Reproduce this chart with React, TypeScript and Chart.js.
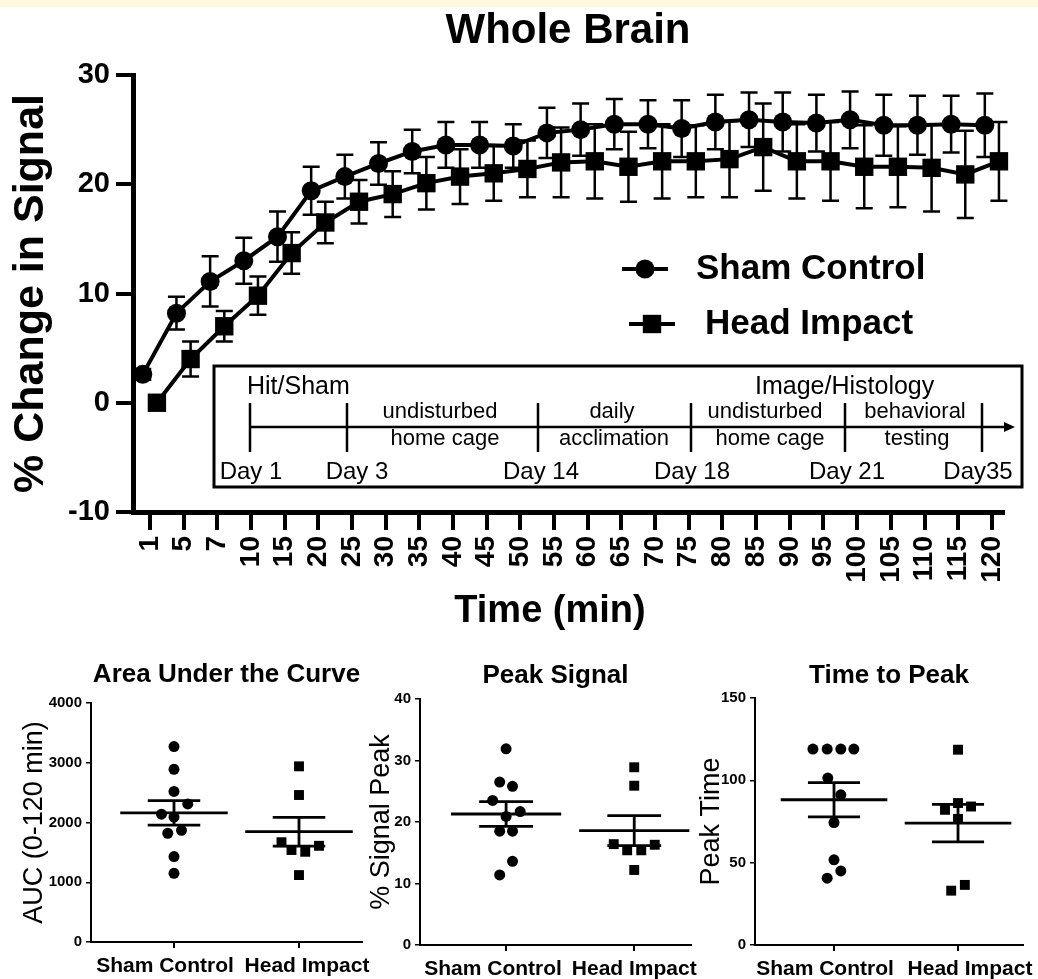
import React, { useEffect, useRef } from 'react';
import { Chart, registerables } from 'chart.js';

Chart.register(...registerables);

const FONT = "'Liberation Sans', Arial, Helvetica, sans-serif";

// ---------- Whole Brain time course ----------
const timeLabels = ['1', '5', '7', '10', '15', '20', '25', '30', '35', '40', '45', '50', '55', '60', '65', '70', '75', '80', '85', '90', '95', '100', '105', '110', '115', '120'];
const shamMean = [2.6, 8.2, 11.1, 13.0, 15.2, 19.4, 20.7, 21.9, 23.0, 23.6, 23.6, 23.5, 24.7, 25.0, 25.5, 25.5, 25.1, 25.7, 25.9, 25.7, 25.6, 25.9, 25.4, 25.4, 25.5, 25.4];
const shamSem = [0.5, 1.5, 2.3, 2.1, 2.3, 2.2, 2.0, 1.95, 2.0, 2.1, 2.1, 2.0, 2.3, 2.4, 2.3, 2.2, 2.6, 2.5, 2.5, 2.7, 2.6, 2.6, 2.8, 2.7, 2.6, 2.9];
const headMean = [0.0, 4.0, 7.0, 9.8, 13.7, 16.5, 18.4, 19.1, 20.1, 20.7, 21.0, 21.4, 22.0, 22.1, 21.6, 22.1, 22.1, 22.3, 23.4, 22.1, 22.1, 21.6, 21.6, 21.5, 20.9, 22.1];
const headSem = [0.3, 1.6, 1.4, 1.75, 1.9, 1.9, 2.0, 2.1, 2.4, 2.5, 2.5, 2.6, 3.2, 3.4, 3.2, 3.4, 3.3, 3.5, 4.0, 3.4, 3.6, 3.8, 3.7, 4.0, 4.0, 3.6];
const seriesNames = ['Sham Control', 'Head Impact'];
const mainYTicks = [-10, 0, 10, 20, 30];
const mainXTitle = 'Time (min)';

// ---------- Timeline inset ----------
const insetHeadings = ['Hit/Sham', 'Image/Histology'];
const insetDays = ['Day 1', 'Day 3', 'Day 14', 'Day 18', 'Day 21', 'Day35'];
const insetPhaseTop = ['undisturbed', 'daily', 'undisturbed', 'behavioral'];
const insetPhaseBottom = ['home cage', 'acclimation', 'home cage', 'testing'];

// ---------- Bottom panels ----------
const groupLabels = ['Sham Control', 'Head Impact'];

const aucSham = [3270, 2890, 2520, 2310, 2140, 2090, 1820, 1870, 1430, 1150];
const aucShamJitter = [0, 0, 0, 0.11, -0.1, 0, -0.05, 0.06, 0, 0];
const aucHead = [2940, 2460, 1670, 1540, 1510, 1610, 1120];
const aucHeadJitter = [0, 0, -0.14, -0.06, 0.05, 0.16, 0];
const aucMean = [2160, 1846];
const aucSem = [205, 240];
const aucTicks = [0, 1000, 2000, 3000, 4000];

const peakSham = [31.9, 26.5, 25.8, 23.5, 21.7, 20.9, 18.5, 18.5, 13.6, 11.4];
const peakShamJitter = [0, -0.05, 0.05, -0.105, 0.11, 0, -0.05, 0.05, 0.05, -0.05];
const peakHead = [28.9, 25.9, 16.4, 15.4, 15.4, 16.3, 12.2];
const peakHeadJitter = [0, 0, -0.16, -0.055, 0.055, 0.16, 0];
const peakMean = [21.3, 18.6];
const peakSem = [2.0, 2.45];
const peakTicks = [0, 10, 20, 30, 40];

const timeSham = [119, 119, 119, 119, 101.4, 91.2, 74.4, 51.7, 40.6, 45.0];
const timeShamJitter = [-0.17, -0.055, 0.055, 0.16, -0.05, 0.055, 0, 0, -0.055, 0.055];
const timeHead = [118.6, 82.1, 86.2, 84.1, 76.6, 33.0, 36.5];
const timeHeadJitter = [0, -0.105, 0, 0.105, 0, -0.055, 0.055];
const timeMean = [88.2, 74.0];
const timeSem = [10.4, 11.4];
const timeTicks = [0, 50, 100, 150];

const GROUP_SHIFT = 0.21;

function drawMarker(ctx: any, style: string, x: number, y: number, r: number) {
  ctx.fillStyle = '#000';
  ctx.beginPath();
  if (style === 'rect') {
    const h = r * Math.SQRT1_2;
    ctx.rect(x - h, y - h, 2 * h, 2 * h);
  } else {
    ctx.arc(x, y, r, 0, Math.PI * 2);
  }
  ctx.fill();
}

const errorBarPlugin = {
  id: 'errorBars',
  beforeDatasetsDraw(chart: any, _a: any, opts: any) {
    const { ctx } = chart;
    const xs = chart.scales.x;
    const ys = chart.scales.y;
    ctx.save();
    ctx.strokeStyle = '#000';
    ctx.lineWidth = opts.lineWidth;
    chart.data.datasets.forEach((ds: any) => {
      const sem: number[] = ds.sem || [];
      ds.data.forEach((p: any, i: number) => {
        const s = sem[i];
        if (!s) return;
        const px = xs.getPixelForValue(p.x);
        const yt = ys.getPixelForValue(p.y + s);
        const yb = ys.getPixelForValue(p.y - s);
        ctx.beginPath();
        ctx.moveTo(px, yt);
        ctx.lineTo(px, yb);
        ctx.moveTo(px - opts.cap, yt);
        ctx.lineTo(px + opts.cap, yt);
        ctx.moveTo(px - opts.cap, yb);
        ctx.lineTo(px + opts.cap, yb);
        ctx.stroke();
      });
    });
    ctx.restore();
  },
};

const lineLegendPlugin = {
  id: 'lineLegend',
  afterDraw(chart: any, _a: any, opts: any) {
    const { ctx } = chart;
    ctx.save();
    chart.data.datasets.forEach((ds: any, i: number) => {
      const pos = opts.items[i];
      ctx.strokeStyle = '#000';
      ctx.lineWidth = ds.borderWidth;
      ctx.beginPath();
      ctx.moveTo(pos.x, pos.y);
      ctx.lineTo(pos.x + opts.lineLength, pos.y);
      ctx.stroke();
      drawMarker(ctx, ds.pointStyle, pos.x + opts.lineLength / 2, pos.y, ds.pointRadius);
      ctx.fillStyle = '#000';
      ctx.font = opts.font;
      ctx.textAlign = 'left';
      ctx.textBaseline = 'middle';
      ctx.fillText(ds.label, pos.textX, pos.y);
    });
    ctx.restore();
  },
};

const xTitlePlugin = {
  id: 'xTitle',
  afterDraw(chart: any, _a: any, o: any) {
    const { ctx, chartArea } = chart;
    ctx.save();
    ctx.fillStyle = '#000';
    ctx.font = o.font;
    ctx.textAlign = 'center';
    ctx.textBaseline = 'middle';
    ctx.fillText(o.text, (chartArea.left + chartArea.right) / 2 + o.shift, chart.height - o.fromBottom);
    ctx.restore();
  },
};

const timelinePlugin = {
  id: 'timelineInset',
  afterDraw(chart: any, _a: any, o: any) {
    const { ctx } = chart;
    const [bl, bt, br, bb] = o.box;
    ctx.save();
    ctx.fillStyle = '#fff';
    ctx.fillRect(bl, bt, br - bl, bb - bt);
    ctx.strokeStyle = '#000';
    ctx.lineWidth = 3;
    ctx.strokeRect(bl, bt, br - bl, bb - bt);
    ctx.lineWidth = 2.5;
    ctx.beginPath();
    ctx.moveTo(o.ticks[0], o.lineY);
    ctx.lineTo(o.arrowTip - 8, o.lineY);
    ctx.stroke();
    ctx.fillStyle = '#000';
    ctx.beginPath();
    ctx.moveTo(o.arrowTip, o.lineY);
    ctx.lineTo(o.arrowTip - 11, o.lineY - 5);
    ctx.lineTo(o.arrowTip - 11, o.lineY + 5);
    ctx.closePath();
    ctx.fill();
    o.ticks.forEach((tx: number) => {
      ctx.beginPath();
      ctx.moveTo(tx, o.tickTop);
      ctx.lineTo(tx, o.tickBottom);
      ctx.stroke();
    });
    ctx.textBaseline = 'alphabetic';
    ctx.textAlign = 'left';
    ctx.font = `25px ${FONT}`;
    insetHeadings.forEach((t, i) => ctx.fillText(t, o.headingX[i], o.headingY));
    ctx.textAlign = 'center';
    ctx.font = `22px ${FONT}`;
    insetPhaseTop.forEach((t, i) => ctx.fillText(t, o.phaseTopX[i], o.phaseTopY));
    insetPhaseBottom.forEach((t, i) => ctx.fillText(t, o.phaseBottomX[i], o.phaseBottomY));
    ctx.font = `24px ${FONT}`;
    insetDays.forEach((t, i) => ctx.fillText(t, o.dayX[i], o.dayY));
    ctx.restore();
  },
};

const meanSemPlugin = {
  id: 'meanSem',
  afterDatasetsDraw(chart: any, _a: any, o: any) {
    const { ctx } = chart;
    const xs = chart.scales.x;
    const ys = chart.scales.y;
    ctx.save();
    ctx.strokeStyle = '#000';
    ctx.lineWidth = o.lineWidth;
    o.means.forEach((m: number, gi: number) => {
      const c = gi + 1;
      const s = o.sems[gi];
      const ym = ys.getPixelForValue(m);
      const yt = ys.getPixelForValue(m + s);
      const yb = ys.getPixelForValue(m - s);
      ctx.beginPath();
      ctx.moveTo(xs.getPixelForValue(c - o.meanHalf), ym);
      ctx.lineTo(xs.getPixelForValue(c + o.meanHalf), ym);
      ctx.moveTo(xs.getPixelForValue(c - o.capHalf), yt);
      ctx.lineTo(xs.getPixelForValue(c + o.capHalf), yt);
      ctx.moveTo(xs.getPixelForValue(c - o.capHalf), yb);
      ctx.lineTo(xs.getPixelForValue(c + o.capHalf), yb);
      ctx.moveTo(xs.getPixelForValue(c), yt);
      ctx.lineTo(xs.getPixelForValue(c), yb);
      ctx.stroke();
    });
    ctx.restore();
  },
};

const groupLabelPlugin = {
  id: 'groupLabels',
  afterDraw(chart: any, _a: any, o: any) {
    const { ctx } = chart;
    const xs = chart.scales.x;
    ctx.save();
    ctx.fillStyle = '#000';
    ctx.font = o.font;
    ctx.textAlign = 'center';
    ctx.textBaseline = 'alphabetic';
    groupLabels.forEach((t, i) => {
      ctx.fillText(t, xs.getPixelForValue(i + 1) + o.shifts[i], xs.top + o.baseline);
    });
    ctx.restore();
  },
};

function MainChart() {
  const ref = useRef<HTMLCanvasElement>(null);
  useEffect(() => {
    const chart = new Chart(ref.current as HTMLCanvasElement, {
      type: 'line',
      data: {
        datasets: [
          {
            label: seriesNames[0],
            data: shamMean.map((v, i) => ({ x: i - GROUP_SHIFT, y: v })),
            sem: shamSem,
            borderColor: '#000',
            backgroundColor: '#000',
            borderWidth: 4,
            pointStyle: 'circle',
            pointRadius: 9.5,
            pointBackgroundColor: '#000',
            pointBorderColor: '#000',
            pointBorderWidth: 0,
            tension: 0,
            clip: false,
          },
          {
            label: seriesNames[1],
            data: headMean.map((v, i) => ({ x: i + GROUP_SHIFT, y: v })),
            sem: headSem,
            borderColor: '#000',
            backgroundColor: '#000',
            borderWidth: 4,
            pointStyle: 'rect',
            pointRadius: 13,
            pointBackgroundColor: '#000',
            pointBorderColor: '#000',
            pointBorderWidth: 0,
            tension: 0,
            clip: false,
          },
        ] as any,
      },
      options: {
        responsive: false,
        animation: false,
        layout: { padding: { left: 0, right: 35, top: 0, bottom: 0 } },
        plugins: {
          legend: { display: false },
          tooltip: { enabled: false },
          title: {
            display: true,
            text: 'Whole Brain',
            fullSize: false,
            color: '#000',
            font: { family: FONT, size: 42, weight: 'bold', lineHeight: 1.2 },
            padding: { top: 5.8, bottom: 18.8 },
          },
          errorBars: { cap: 8.5, lineWidth: 2.5 },
          lineLegend: {
            font: `bold 35px ${FONT}`,
            lineLength: 46,
            items: [
              { x: 622, y: 269, textX: 696 },
              { x: 629, y: 324, textX: 705 },
            ],
          },
          xTitle: { text: mainXTitle, font: `bold 38px ${FONT}`, shift: -18, fromBottom: 28 },
          timelineInset: {
            box: [214, 366, 1022, 487],
            lineY: 427,
            arrowTip: 1015,
            ticks: [250, 347, 538, 691, 845, 982],
            tickTop: 403,
            tickBottom: 452,
            headingX: [247, 755],
            headingY: 394,
            phaseTopX: [440, 612, 765, 915],
            phaseTopY: 418,
            phaseBottomX: [445, 614, 770, 917],
            phaseBottomY: 445,
            dayX: [251, 357, 541, 692, 847, 978],
            dayY: 479,
          },
        } as any,
        scales: {
          x: {
            type: 'linear',
            min: -0.5,
            max: 25.33,
            afterBuildTicks: (s: any) => {
              s.ticks = timeLabels.map((_, i) => ({ value: i }));
            },
            afterFit: (s: any) => {
              s.height = 128;
            },
            ticks: {
              autoSkip: false,
              minRotation: 90,
              maxRotation: 90,
              padding: 6,
              color: '#000',
              font: { family: FONT, size: 28, weight: 'bold' },
              callback: (v: any) => timeLabels[v] ?? '',
            },
            grid: { drawOnChartArea: false, drawTicks: true, tickLength: 18, lineWidth: 4, color: '#000' },
            border: { display: true, width: 5, color: '#000' },
          },
          y: {
            min: -10,
            max: 30,
            afterBuildTicks: (s: any) => {
              s.ticks = mainYTicks.map((v) => ({ value: v }));
            },
            afterFit: (s: any) => {
              s.width = 133;
            },
            ticks: { padding: 6, color: '#000', font: { family: FONT, size: 29, weight: 'bold' } },
            grid: { drawOnChartArea: false, drawTicks: true, tickLength: 17, lineWidth: 4, color: '#000' },
            border: { display: true, width: 5, color: '#000' },
            title: {
              display: true,
              text: '% Change in Signal',
              color: '#000',
              font: { family: FONT, size: 43, weight: 'bold', lineHeight: 1.2 },
              padding: { top: 5, bottom: 0 },
            },
          },
        } as any,
      },
      plugins: [errorBarPlugin, lineLegendPlugin, timelinePlugin, xTitlePlugin] as any,
    });
    return () => chart.destroy();
  }, []);
  return (
    <canvas
      ref={ref}
      width={1038}
      height={640}
      style={{ position: 'absolute', left: 0, top: 0, width: 1038, height: 640 }}
    />
  );
}

type PanelSpec = {
  left: number;
  width: number;
  title: string;
  yTitle: string;
  yTicks: number[];
  sham: number[];
  shamJitter: number[];
  head: number[];
  headJitter: number[];
  means: number[];
  sems: number[];
  xMin: number;
  xMax: number;
  chartLeft: number;
  chartRight: number;
  chartTop: number;
  chartBottom: number;
  titleCenterY: number;
  yTitleCenterX: number;
  labelShifts: number[];
};

const PANEL_H = 339;

const panels: PanelSpec[] = [
  {
    left: 0, width: 380, title: 'Area Under the Curve', yTitle: 'AUC (0-120 min)', yTicks: aucTicks,
    sham: aucSham, shamJitter: aucShamJitter, head: aucHead, headJitter: aucHeadJitter,
    means: aucMean, sems: aucSem, xMin: 0.336, xMax: 2.504,
    chartLeft: 91, chartRight: 362, chartTop: 63, chartBottom: 302, titleCenterY: 35, yTitleCenterX: 35,
    labelShifts: [-9, 8],
  },
  {
    left: 362, width: 336, title: 'Peak Signal', yTitle: '% Signal Peak', yTicks: peakTicks,
    sham: peakSham, shamJitter: peakShamJitter, head: peakHead, headJitter: peakHeadJitter,
    means: peakMean, sems: peakSem, xMin: 0.328, xMax: 2.443,
    chartLeft: 58, chartRight: 335, chartTop: 59, chartBottom: 305, titleCenterY: 36, yTitleCenterX: 20,
    labelShifts: [-13, 0],
  },
  {
    left: 698, width: 340, title: 'Time to Peak', yTitle: 'Peak Time', yTicks: timeTicks,
    sham: timeSham, shamJitter: timeShamJitter, head: timeHead, headJitter: timeHeadJitter,
    means: timeMean, sems: timeSem, xMin: 0.363, xMax: 2.524,
    chartLeft: 57, chartRight: 325, chartTop: 58, chartBottom: 305, titleCenterY: 36, yTitleCenterX: 14,
    labelShifts: [-9, 12],
  },
];

function Panel(p: PanelSpec) {
  const ref = useRef<HTMLCanvasElement>(null);
  useEffect(() => {
    const titleSize = 26;
    const titleLH = titleSize * 1.2;
    const titlePadTop = p.titleCenterY - titleLH / 2;
    const titlePadBottom = p.chartTop - titlePadTop - titleLH;
    const yTitleSize = 27;
    const chart = new Chart(ref.current as HTMLCanvasElement, {
      type: 'scatter',
      data: {
        datasets: [
          {
            label: groupLabels[0],
            data: p.sham.map((v, i) => ({ x: 1 + p.shamJitter[i], y: v })),
            pointStyle: 'circle',
            pointRadius: 5.5,
            backgroundColor: '#000',
            borderColor: '#000',
            borderWidth: 0,
            clip: false,
          },
          {
            label: groupLabels[1],
            data: p.head.map((v, i) => ({ x: 2 + p.headJitter[i], y: v })),
            pointStyle: 'rect',
            pointRadius: 7,
            backgroundColor: '#000',
            borderColor: '#000',
            borderWidth: 0,
            clip: false,
          },
        ] as any,
      },
      options: {
        responsive: false,
        animation: false,
        layout: { padding: { left: 0, right: p.width - p.chartRight, top: 0, bottom: 0 } },
        plugins: {
          legend: { display: false },
          tooltip: { enabled: false },
          title: {
            display: true,
            text: p.title,
            fullSize: false,
            color: '#000',
            font: { family: FONT, size: titleSize, weight: 'bold', lineHeight: 1.2 },
            padding: { top: titlePadTop, bottom: titlePadBottom },
          },
          meanSem: { means: p.means, sems: p.sems, meanHalf: 0.43, capHalf: 0.21, lineWidth: 2.8 },
          groupLabels: { font: `bold 21px ${FONT}`, shifts: p.labelShifts, baseline: 30 },
        } as any,
        scales: {
          x: {
            type: 'linear',
            min: p.xMin,
            max: p.xMax,
            afterBuildTicks: (s: any) => {
              s.ticks = groupLabels.map((_, i) => ({ value: i + 1 }));
            },
            afterFit: (s: any) => {
              s.height = PANEL_H - p.chartBottom;
            },
            ticks: { display: false },
            grid: { drawOnChartArea: false, drawTicks: true, tickLength: 6, lineWidth: 2, color: '#000' },
            border: { display: true, width: 2, color: '#000' },
          },
          y: {
            min: p.yTicks[0],
            max: p.yTicks[p.yTicks.length - 1],
            afterBuildTicks: (s: any) => {
              s.ticks = p.yTicks.map((v) => ({ value: v }));
            },
            afterFit: (s: any) => {
              s.width = p.chartLeft;
            },
            ticks: {
              padding: 4,
              color: '#000',
              font: { family: FONT, size: 15, weight: 'bold' },
              callback: (v: any) => String(v),
            },
            grid: { drawOnChartArea: false, drawTicks: true, tickLength: 5, lineWidth: 1.5, color: '#000' },
            border: { display: true, width: 2, color: '#000' },
            title: {
              display: true,
              text: p.yTitle,
              color: '#000',
              font: { family: FONT, size: yTitleSize, weight: 'normal', lineHeight: 1 },
              padding: { top: p.yTitleCenterX - yTitleSize / 2, bottom: 0 },
            },
          },
        } as any,
      },
      plugins: [meanSemPlugin, groupLabelPlugin] as any,
    });
    return () => chart.destroy();
  }, []);
  return (
    <canvas
      ref={ref}
      width={p.width}
      height={PANEL_H}
      style={{ position: 'absolute', left: p.left, top: 640, width: p.width, height: PANEL_H }}
    />
  );
}

export default function App() {
  return (
    <div
      style={{
        position: 'absolute',
        left: 0,
        top: 0,
        width: 1038,
        height: 979,
        background: '#fff',
        overflow: 'hidden',
      }}
    >
      <div style={{ position: 'absolute', left: 0, top: 0, width: 1038, height: 7, background: '#FFF8DF' }} />
      <MainChart />
      {panels.map((p) => (
        <Panel key={p.title} {...p} />
      ))}
    </div>
  );
}
